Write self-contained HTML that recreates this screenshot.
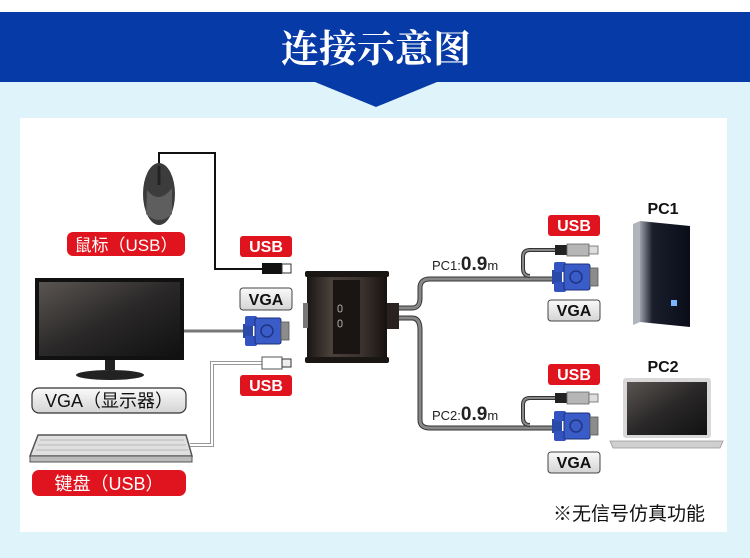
<!DOCTYPE html>
<html><head><meta charset="utf-8"><style>
html,body{margin:0;padding:0;background:#fff}
body{width:750px;height:558px;overflow:hidden;position:relative;font-family:"Liberation Sans","Noto Sans CJK SC",sans-serif}
</style></head><body>
<svg width="750" height="558" viewBox="0 0 750 558" xmlns="http://www.w3.org/2000/svg" style="position:absolute;left:0;top:0">
<defs>
<linearGradient id="lg" x1="0" y1="0" x2="0" y2="1"><stop offset="0" stop-color="#fafafa"/><stop offset="1" stop-color="#d4d4d4"/></linearGradient>
<linearGradient id="scr" x1="0" y1="0" x2="1" y2="1"><stop offset="0" stop-color="#5a5552"/><stop offset="0.5" stop-color="#2a2828"/><stop offset="1" stop-color="#111"/></linearGradient>
<linearGradient id="box" x1="0" y1="0" x2="1" y2="0"><stop offset="0" stop-color="#1a1614"/><stop offset="0.3" stop-color="#4a403b"/><stop offset="0.7" stop-color="#3a312d"/><stop offset="1" stop-color="#161210"/></linearGradient>
<linearGradient id="tower" x1="0" y1="0" x2="1" y2="0"><stop offset="0" stop-color="#9aa0ab"/><stop offset="0.25" stop-color="#1a1e2c"/><stop offset="1" stop-color="#0a0d18"/></linearGradient>
<g id="vga">
<rect x="0" y="8" width="10" height="14" fill="#2a4aa8"/>
<rect x="2" y="0" width="12" height="10" rx="2" fill="#3354c0"/>
<rect x="2" y="20" width="12" height="10" rx="2" fill="#3354c0"/>
<rect x="12" y="2" width="26" height="26" rx="2" fill="#3a5cc8" stroke="#1c2f7a" stroke-width="1"/>
<circle cx="24" cy="15" r="6" fill="none" stroke="#20357f" stroke-width="1.5"/>
<rect x="38" y="6" width="8" height="18" fill="#8c8c8c" stroke="#555" stroke-width="0.8"/>
</g>
<g id="usbg">
<rect x="0" y="0" width="12" height="10" fill="#222"/>
<rect x="12" y="-1" width="22" height="12" fill="#b6b6b6" stroke="#666" stroke-width="0.8"/>
<rect x="34" y="1" width="9" height="8" fill="#ddd" stroke="#666" stroke-width="0.8"/>
</g>
</defs>
<rect x="0" y="12" width="750" height="70" fill="#063aa6"/>
<rect x="0" y="82" width="750" height="476" fill="#dff3fa"/>
<polygon points="315,82 437,82 376,107" fill="#063aa6"/>
<rect x="20" y="118" width="707" height="414" fill="#fff"/>
<text x="376" y="62" text-anchor="middle" font-family="'Noto Serif CJK SC',serif" font-weight="bold" font-size="38" fill="#fff">连接示意图</text>

<polyline points="159,165 159,153 215,153 215,269 262,269" fill="none" stroke="#111" stroke-width="2"/>
<line x1="184" y1="331" x2="243" y2="331" stroke="#777" stroke-width="3"/>
<polyline points="190,445 212,445 212,363 262,363" fill="none" stroke="#999" stroke-width="4"/>
<polyline points="190,445 212,445 212,363 262,363" fill="none" stroke="#fff" stroke-width="2"/>
<path d="M398,308 L412,308 Q420,308 420,298 L420,288 Q420,279 430,279 L560,279" fill="none" stroke="#333" stroke-width="5"/>
<path d="M398,308 L412,308 Q420,308 420,298 L420,288 Q420,279 430,279 L560,279" fill="none" stroke="#888" stroke-width="3"/>
<path d="M398,318 L412,318 Q420,318 420,330 L420,420 Q420,428 430,428 L560,428" fill="none" stroke="#333" stroke-width="5"/>
<path d="M398,318 L412,318 Q420,318 420,330 L420,420 Q420,428 430,428 L560,428" fill="none" stroke="#888" stroke-width="3"/>
<path d="M560,250 L530,250 Q523,250 523,257 L523,268 Q523,276 530,276" fill="none" stroke="#333" stroke-width="4"/>
<path d="M560,250 L530,250 Q523,250 523,257 L523,268 Q523,276 530,276" fill="none" stroke="#888" stroke-width="2"/>
<path d="M560,398 L530,398 Q523,398 523,405 L523,418 Q523,425 530,425" fill="none" stroke="#333" stroke-width="4"/>
<path d="M560,398 L530,398 Q523,398 523,405 L523,418 Q523,425 530,425" fill="none" stroke="#888" stroke-width="2"/>

<ellipse cx="159" cy="194" rx="16" ry="31" fill="#3c3c3c"/>
<path d="M147,190 Q159,205 172,188 L172,214 Q159,226 146,214 Z" fill="#5e5e5e"/>
<line x1="159" y1="166" x2="159" y2="185" stroke="#222" stroke-width="3"/>

<rect x="262" y="263" width="20" height="11" fill="#111"/><rect x="282" y="264" width="9" height="9" fill="#fff" stroke="#333"/>
<use href="#vga" x="243" y="316"/>
<rect x="262" y="357" width="20" height="12" fill="#fff" stroke="#555"/><rect x="282" y="359" width="9" height="8" fill="#eee" stroke="#333"/>

<rect x="35" y="278" width="149" height="82" fill="#111"/>
<rect x="39" y="282" width="141" height="74" fill="url(#scr)"/>
<rect x="105" y="360" width="10" height="10" fill="#222"/>
<ellipse cx="110" cy="375" rx="34" ry="5" fill="#222"/>

<polygon points="38,435 186,435 192,456 30,456" fill="#e0e0e0" stroke="#555" stroke-width="1.5"/>
<rect x="30" y="456" width="162" height="6" fill="#bbb" stroke="#555" stroke-width="1"/>
<g stroke="#aaa" stroke-width="0.8">
<line x1="40" y1="440" x2="184" y2="440"/><line x1="38" y1="445" x2="186" y2="445"/><line x1="36" y1="450" x2="188" y2="450"/>
</g>

<rect x="307" y="273" width="80" height="88" fill="url(#box)"/>
<rect x="305" y="271" width="84" height="6" rx="2" fill="#1a1614"/>
<rect x="305" y="357" width="84" height="6" rx="2" fill="#1a1614"/>
<rect x="333" y="280" width="27" height="74" fill="#1a1412"/>
<rect x="338" y="305" width="4" height="7" rx="2" fill="none" stroke="#aaa"/>
<rect x="338" y="320" width="4" height="7" rx="2" fill="none" stroke="#aaa"/>
<rect x="303" y="303" width="5" height="25" fill="#777"/>
<rect x="387" y="303" width="12" height="26" fill="#2a2220"/>

<polygon points="640,221 690,226 690,327 640,322" fill="url(#tower)"/>
<polygon points="633,224 640,221 640,322 633,325" fill="#b0b4bc"/>
<rect x="671" y="300" width="6" height="6" fill="#7ab6ff"/>

<rect x="623" y="378" width="88" height="60" rx="3" fill="#d8d8d8"/>
<rect x="627" y="382" width="80" height="53" fill="url(#scr)"/>
<polygon points="610,441 723,441 720,448 613,448" fill="#cfcfcf" stroke="#999" stroke-width="0.8"/>

<use href="#usbg" x="555" y="245"/>
<use href="#vga" x="552" y="262"/>
<use href="#usbg" x="555" y="393"/>
<use href="#vga" x="552" y="411"/>

<g font-weight="bold" font-size="16" text-anchor="middle">
<rect x="240" y="236" width="52" height="21" rx="3" fill="#e0141e"/><text x="266" y="252" fill="#fff">USB</text>
<rect x="240" y="288" width="52" height="22" rx="3" fill="url(#lg)" stroke="#444"/><text x="266" y="305" fill="#111">VGA</text>
<rect x="240" y="375" width="52" height="21" rx="3" fill="#e0141e"/><text x="266" y="391" fill="#fff">USB</text>
<rect x="548" y="215" width="52" height="21" rx="3" fill="#e0141e"/><text x="574" y="231" fill="#fff">USB</text>
<rect x="548" y="300" width="52" height="21" rx="3" fill="url(#lg)" stroke="#444"/><text x="574" y="316" fill="#111">VGA</text>
<rect x="548" y="364" width="52" height="21" rx="3" fill="#e0141e"/><text x="574" y="380" fill="#fff">USB</text>
<rect x="548" y="452" width="52" height="21" rx="3" fill="url(#lg)" stroke="#444"/><text x="574" y="468" fill="#111">VGA</text>
<text x="663" y="214" font-size="16" fill="#111">PC1</text>
<text x="663" y="372" font-size="16" fill="#111">PC2</text>
</g>
<rect x="67" y="232" width="118" height="24" rx="6" fill="#e0141e"/>
<text x="126" y="251" text-anchor="middle" font-size="17" fill="#fff">鼠标（USB）</text>
<rect x="32" y="388" width="154" height="25" rx="7" fill="url(#lg)" stroke="#333" stroke-width="1.2"/>
<text x="109" y="407" text-anchor="middle" font-size="18" fill="#111">VGA（显示器）</text>
<rect x="32" y="470" width="154" height="26" rx="7" fill="#e0141e"/>
<text x="109" y="490" text-anchor="middle" font-size="18" fill="#fff">键盘（USB）</text>
<text x="432" y="270" font-size="13" fill="#222">PC1:<tspan font-size="19" font-weight="bold">0.9</tspan><tspan font-size="13">m</tspan></text>
<text x="432" y="420" font-size="13" fill="#222">PC2:<tspan font-size="19" font-weight="bold">0.9</tspan><tspan font-size="13">m</tspan></text>
<text x="705" y="520" text-anchor="end" font-size="19" fill="#111">※无信号仿真功能</text>
</svg>
</body></html>
